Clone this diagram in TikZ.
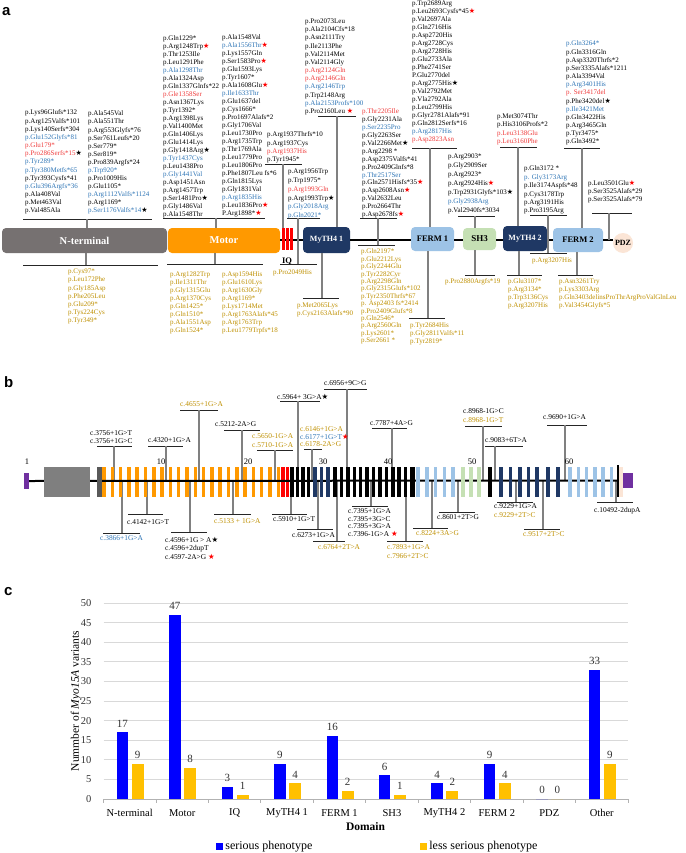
\documentclass[tikz,border=0pt]{standalone}
\usepackage{fontspec}
\setmainfont{Liberation Serif}
\setsansfont{Liberation Sans}
\newfontfamily\symfont{DejaVu Sans}
\usetikzlibrary{positioning}

\definecolor{ntgray}{HTML}{767171}
\definecolor{motororange}{HTML}{FF9900}
\definecolor{mythnavy}{HTML}{1F3864}
\definecolor{fermblue}{HTML}{9DC3E6}
\definecolor{shgreen}{HTML}{C5E0B4}
\definecolor{pdzpeach}{HTML}{FBE5D6}
\definecolor{exgray}{HTML}{7F7F7F}
\definecolor{exdark}{HTML}{595959}
\definecolor{expurple}{HTML}{7030A0}
\definecolor{txtblue}{HTML}{2E75B6}
\definecolor{txtred}{HTML}{F03C3C}
\definecolor{txtgold}{HTML}{BF9000}
\definecolor{serblue}{HTML}{0000FF}
\definecolor{lessgold}{HTML}{FFC000}
\definecolor{gridgray}{HTML}{D9D9D9}

\newcommand{\bl}[1]{{\color{txtblue}#1}}
\newcommand{\rd}[1]{{\color{txtred}#1}}
\newcommand{\gd}[1]{{\color{txtgold}#1}}
\newcommand{\rstar}{{\symfont\color{red}★}}
\newcommand{\bstar}{{\symfont ★}}

\begin{document}
\begin{tikzpicture}[x=1pt, y=-1pt,
dom/.style = {rounded corners=4pt, inner sep=0pt,
            font=\bfseries\fontsize{#1}{#1}\selectfont},
dom/.default = 8.5,
vcol/.style = {anchor=north west, inner sep=0pt, align=left, yshift=3.2pt,
            font=\fontsize{7}{#1}\selectfont},
vcol/.default = 8,
gcol/.style = {vcol=#1, text=txtgold},
gcol/.default = 8,
blab/.style = {anchor=north west, inner sep=0pt, align=left, yshift=3.3pt,
            font=\fontsize{7.4}{#1}\selectfont},
blab/.default = 8,
brk/.style = {black!85, line width=0.8pt},
stem/.style = {black!50, line width=1.3pt},
panel/.style = {font=\sffamily\bfseries\fontsize{15}{15}\selectfont,
            anchor=west, inner sep=0pt}
                ]
\useasboundingbox[fill=white] (0,0) rectangle (685,853);

% ---------------- a
\node[panel] (pa) at (2,12) {a};
\node[dom=10.5, fill=ntgray, text=white, minimum width=165, minimum height=25] (nterm) at (84.5,240.5) {N-terminal};
\node[dom=10.5, fill=motororange, text=white, minimum width=112, minimum height=25] (motor) at (224,240.5) {Motor};
\node[minimum width=11, minimum height=22, inner sep=0pt] (iqbox) at (287.5,239) {};
\node[dom=8, fill=mythnavy, text=white, minimum width=47, minimum height=26] (myth1) at (326.5,240) {MyTH4 1};
\node[dom, fill=fermblue, minimum width=43, minimum height=24] (ferm1) at (432.5,239) {FERM 1};
\node[dom=9, fill=shgreen, minimum width=33, minimum height=22] (sh3) at (479.5,239) {SH3};
\node[dom=8, fill=mythnavy, text=white, minimum width=44, minimum height=25] (myth2) at (525,238.5) {MyTH4 2};
\node[dom, fill=fermblue, minimum width=50, minimum height=24] (ferm2) at (578,240) {FERM 2};
\node[dom=8, circle, fill=pdzpeach, minimum size=20] (pdz) at (623,243) {PDZ};
\coordinate (aline) at (0,240);
\foreach \a/\b in {motor/myth1, myth1/ferm1, ferm1/sh3, sh3/myth2, myth2/ferm2, ferm2/pdz}
    \draw[line width=1.6pt] (\a.east |- aline) -- (\b.west |- aline);
\foreach \x in {283.5, 287.5, 291.5}
    \fill[red] (\x-1.2,228) rectangle (\x+1.2,250);
\node[font=\bfseries\fontsize{8.5}{9}\selectfont] (iq) at (287,261) {IQ};

% variants above the domains
\node[vcol=8.17] (tNa) at (25,113) {p.Lys96Glufs*132\\p.Arg125Valfs*101\\p.Lys140Serfs*304\\\bl{p.Glu152Glyfs*81}\\\rd{p.Glu179*}\\\rd{p.Pro286Serfs*15}\bstar\\\bl{p.Tyr289*}\\\bl{p.Tyr380Metfs*65}\\p.Tyr393Cysfs*41\\\bl{p.Glu396Argfs*36}\\p.Ala408Val\\p.Met463Val\\p.Val485Ala};
\node[vcol=8.08] (tNb) at (88,114) {p.Ala545Val\\p.Ala551Thr\\p.Arg553Glyfs*76\\p.Ser761Leufs*20\\p.Ser779*\\p.Ser819*\\p.Pro839Argfs*24\\\bl{p.Trp920*}\\p.Pro1009His\\p.Glu1105*\\\bl{p.Arg1112Valfs*1124}\\p.Arg1169*\\\bl{p.Ser1176Valfs*14}\bstar};
\node[vcol] (tMa) at (163,39) {p.Gln1229*\\p.Arg1248Trp\rstar\\p.Thr1253Ile\\p.Leu1291Phe\\\bl{p.Ala1298Thr}\\p.Ala1324Asp\\p.Gln1337Glnfs*22\\\rd{p.Gle1358Ser}\\p.Asn1367Lys\\p.Tyr1392*\\p.Arg1398Lys\\p.Val1400Met\\p.Gln1406Lys\\p.Glu1414Lys\\p.Gly1418Arg\bstar\\\bl{p.Tyr1437Cys}\\p.Leu1438Pro\\\bl{p.Gly1441Val}\\p.Asp1451Asn\\p.Arg1457Trp\\p.Ser1481Pro\bstar\\p.Gly1486Val\\p.Ala1548Thr};
\node[vcol] (tMb) at (222,38) {p.Ala1548Val\\\bl{p.Ala1556Thr}\rstar\\p.Lys1557Gln\\p.Ser1583Pro\rstar\\p.Glu1593Lys\\p.Tyr1607*\\p.Ala1608Glu\rstar\\\bl{p.Ile1633Thr}\\p.Glu1637del\\p.Cys1666*\\p.Pro1697Alafs*2\\p.Gly1706Val\\p.Leu1730Pro\\p.Arg1735Trp\\p.Thr1769Ala\\p.Leu1779Pro\\p.Leu1806Pro\\p.Phe1807Leu fs*6\\p.Gln1815Lys\\p.Gly1831Val\\\bl{p.Arg1835His}\\p.Leu1836Pro\rstar\\P.Arg1898*\rstar};
\node[vcol=8.3] (tQa) at (267,135) {p.Arg1937Thrfs*10\\p.Arg1937Cys\\\rd{p.Arg1937His}\\p.Tyr1945*};
\node[vcol=8.8] (tQb) at (288,172) {p.Arg1956Trp\\p.Trp1975*\\\rd{p.Arg1993Gln}\\p.Arg1993Trp\bstar\\\bl{p.Gly2018Arg}\\\bl{p.Gln2021*}};
\node[vcol=8.15] (tYa) at (305,22) {p.Pro2073Leu\\p.Ala2104Cfs*18\\p.Asn2111Try\\p.Ile2113Phe\\p.Val2114Met\\p.Val2114Gly\\\rd{p.Arg2124Gln}\\\rd{p.Arg2146Gln}\\\bl{p.Arg2146Trp}\\p.Trp2148Arg\\\bl{p.Ala2153Profs*100}\\p.Pro2160Leu \rstar};
\node[vcol=7.9] (tFa) at (362,112) {\rd{p.Thr2205Ile}\\p.Gly2231Ala\\\bl{p.Ser2235Pro}\\p.Gly2263Ser\\p.Val2266Met\bstar\\p.Arg2298 *\\p.Asp2375Valfs*41\\p.Pro2409Glnfs*8\\\bl{p.Thr2517Ser}\\p.Gln2571Hisfs*35\rstar\\p.Asp2608Asn\rstar\\p.Val2632Leu\\p.Pro2664Thr\\p.Asp2678fs\rstar};
\node[vcol=8.03] (tFb) at (412,3.5) {p.Trp2689Arg\\p.Leu2693Cysfs*45\rstar\\p.Val2697Ala\\p.Gln2716His\\p.Asp2720His\\p.Arg2728Cys\\p.Arg2728His\\p.Glu2733Ala\\p.Phe2741Ser\\P.Glu2770del\\p.Arg2775His\bstar\\p.Val2792Met\\p.Vla2792Ala\\p.Leu2799His\\p.Glyr2781Alafs*91\\p.Gln2812Serfs*16\\\bl{p.Arg2817His}\\\rd{p.Asp2823Asn}};
\node[vcol=9] (tSa) at (448,157) {p.Arg2903*\\p.Gly2909Ser\\p.Arg2923*\\p.Arg2924His\rstar\\p.Trp2931Glyfs*103\bstar\\\bl{p.Gly2938Arg}\\p.Val2940fs*3034};
\node[vcol=8.1] (tYb) at (497,117) {p.Met3074Thr\\p.His3106Profs*2\\\rd{p.Leu3138Glu}\\\rd{p.Leu3160Phe}};
\node[vcol=8.4] (tYc) at (524,169) {p.Gln3172 *\\\bl{p. Gly3173Arg}\\p.Ile3174Aspfs*48\\p.Cys3178Trp\\p.Arg3191His\\p.Pro3195Arg};
\node[vcol=8.17] (tFc) at (566,44) {\bl{p.Gln3264*}\\p.Gln3316Gln\\p.Asp3320Thrfs*2\\p.Ser3335Alafs*1211\\p.Ala3394Val\\\bl{p.Arg3401His}\\\rd{p. Ser3417del}\\p.Phe3420del\bstar\\\bl{p.Ile3421Met}\\p.Gln3422His\\p.Arg3465Gln\\p.Tyr3475*\\p.Gln3492*};
\node[vcol] (tPa) at (588,183) {p.Leu3501Glu\rstar\\p.Ser3525Alafs*29\\p.Ser3525Alafs*79};

% variants below the domains
\node[gcol=8.2] (bNa) at (68,272) {p.Cys97*\\p.Leu172Phe\\p.Gly185Asp\\p.Phe205Leu\\p.Glu209*\\p.Tys224Cys\\p.Tyr349*};
\node[gcol] (bMa) at (170,275) {p.Arg1282Trp\\p.Ile1311Thr\\p.Gly1315Glu\\p.Arg1370Cys\\p.Gln1425*\\p.Gln1510*\\p.Ala1551Asp\\p.Gln1524*};
\node[gcol] (bMb) at (222,275) {p.Asp1594His\\p.Glu1610Lys\\p.Arg1630Gly\\p.Arg1169*\\p.Lys1714Met\\p.Arg1763Alafs*45\\p.Arg1763Trp\\p.Leu1779Trpfs*18};
\node[gcol] (bQa) at (273,273) {p.Pro2049His};
\node[gcol] (bYa) at (297,306) {p.Met2065Lys\\p.Cys2163Alafs*90};
\node[gcol=7.4] (bFa) at (361,252) {p.Gln2197*\\p.Glu2212Lys\\p.Gly2244Glu\\p.Tyr2282Cyr\\p.Arg2298Gln\\p.Gly2315Glufs*102\\p.Tyr2350Thrfs*67\\p. Asp2403 fs*2414\\p.Pro2409Glufs*8\\p.Gln2546*\\p.Arg2560Gln\\p.Lys2601*\\p.Ser2661 *};
\node[gcol] (bFb) at (410,326) {p.Tyr2684His\\p.Gly2811Valfs*11\\p.Tyr2819*};
\node[gcol] (bSa) at (445,282) {p.Pro2880Argfs*19};
\node[gcol] (bYb) at (508,282) {p.Glu3107*\\p.Arg3134*\\p.Trp3136Cys\\p.Arg3207His};
\node[gcol] (bYc) at (532,261) {p.Arg3207His};
\node[gcol] (bFc) at (559,282) {p.Asn3261Try\\p.Lys3303Arg\\p.Gln3403delinsProThrArgProValGlnLeu\\p.Val3454Glyfs*5};

% brackets: name/y/left/right/stem
\foreach \nm/\yy/\xa/\xb/\xs in {Nu/219/23/152/87, Mu/218/163/265/216, IQa/164/265/302/283,
        IQb/218/287/320/298, Yu/116/318/356/337, Fa/218/360/397/378, Fb/148/412/457/430,
        Su/216/458/495/475, Ya/147/500/537/518, Yb/215/530/567/548, Fu/148/564/600/582,
        Pu/213/592/632/609, Nl/265/23/158/86, Ml/264/167/263/215, Ql/264/280/317/298,
        Yl/298/303/339/322, Fc/245/358/395/378, Fd/318/409/445/428, Sl/275/465/495/475,
        Yc/275/507/542/519, Ym/253/530/567/548, Fl/275/558/593/577}{
    \coordinate (k\nm) at (\xs,\yy);
    \coordinate (kl\nm) at (\xa,\yy);
    \coordinate (kr\nm) at (\xb,\yy);
    \draw[brk] (kl\nm) -- (kr\nm);
}
\foreach \k/\tg in {Nu/nterm.north, Mu/motor.north, IQa/iqbox.north, IQb/kQl, Yu/myth1.north,
        Fa/kFc, Fb/ferm1.north, Su/sh3.north, Ya/myth2.north, Yb/kYm, Fu/ferm2.north,
        Pu/aline, Nl/nterm.south, Ml/motor.south, Yl/myth1.south, Fd/ferm1.south,
        Sl/sh3.south, Yc/myth2.south, Fl/ferm2.south}
    \draw[stem] (k\k) -- (k\k |- \tg);

% ---------------- b
\node[panel] (pb) at (4,382) {b};
\coordinate (gline) at (0,481);
\foreach \nm/\yy/\xa/\xb/\xs in {3756/446/97/132/114, 4320/446/148/183/166, 4655/410/180/218/199,
        5212/430/224/260/242, 5650/450/257/293/275, 5964/401/280/320/298, 6146/449/304/322/312,
        6956/389/324/367/347, 7787/428/372/407/392, 8968/426/465/502/483, 9083/446/485/523/495,
        9690/425/547/587/565, 3866/533/103/140/122, 4142/514/128/163/147, 4596/532/171/207/190,
        5133/514/214/251/233, 5910/514/272/307/291, 6273/529/297/333/318, 6764/541/313/345/337,
        7395/506/352/388/371, 7893/541/387/423/406, 8224/528/413/448/432, 8601/512/439/475/458,
        9229/502/497/533/516, 9517/529/524/560/543, 10492/502/597/633/616}{
    \coordinate (c\nm) at (\xs,\yy);
    \coordinate (cl\nm) at (\xa,\yy);
    \coordinate (cr\nm) at (\xb,\yy);
    \draw[brk] (cl\nm) -- (cr\nm);
    \draw[stem] (c\nm) -- (c\nm |- gline);
}

% exons
\node[fill=expurple, minimum width=5, minimum height=16, inner sep=0pt] (ex1) at (26.5,481) {};
\foreach \i in {0,...,21}
    \fill[motororange] (102.25+8.3*\i,467) rectangle ++(3.5,30);
\foreach \x in {283, 287.5}
    \fill[red] (\x-1.75,467) rectangle ++(3.5,30);
\node[fill=expurple, minimum width=10, minimum height=15, inner sep=0pt] (exN) at (628,480.5) {};
\draw[line width=2pt] (ex1.east) -- (exN.west);
\fill[exgray] (44,467) rectangle (90,497);
\fill[exdark] (97,467) rectangle (101.5,497);
\foreach \c/\x in {black/292, black/297.5, black/303, black/308.5, mythnavy/315, mythnavy/321.5,
        mythnavy/328, fermblue/418, fermblue/426.75, fermblue/435.5, fermblue/444.25,
        fermblue/453, shgreen/463, shgreen/471, shgreen/479, black/490, mythnavy/501,
        mythnavy/510.5, mythnavy/520, mythnavy/528.5, mythnavy/537, mythnavy/548,
        mythnavy/558, fermblue/570, fermblue/578.3, fermblue/586.6, fermblue/594.9,
        fermblue/603.2, fermblue/611.5}
    \fill[\c] (\x-1.75,467) rectangle ++(3.5,30);
\foreach \i in {0,...,11}
    \fill[black] (335+6.42*\i-1.75,467) rectangle ++(3.5,30);
\fill[black] (410,467) rectangle (415,497);
\fill[black] (617,465) rectangle (618.5,497);
\fill[pdzpeach] (619,467) rectangle (623,497);
\foreach \n/\x in {1/27, 10/161, 20/248, 30/323, 40/388, 50/472, 60/569}
    \node[font=\fontsize{8.5}{9}\selectfont] (en\n) at (\x,462) {\n};

% splice variants
\node[blab] (l3756) at (90,434) {c.3756+1G>T\\c.3756+1G>C};
\node[blab] (l4320) at (148,441) {c.4320+1G>A};
\node[blab] (l4655) at (180,405) {\gd{c.4655+1G>A}};
\node[blab] (l5212) at (215,425) {c.5212-2A>G};
\node[blab=8.5] (l5650) at (252,437) {\gd{c.5650-1G>A}\\\gd{c.5710-1G>A}};
\node[blab] (l5964) at (277,397) {c.5964+ 3G>A\bstar};
\node[blab=7.2] (l6146) at (300,430) {\gd{c.6146+1G>A}\\\bl{c.6177+1G>T}\rstar\\\gd{c.6178-2A>G}};
\node[blab] (l6956) at (324,384) {c.6956+9C>G};
\node[blab] (l7787) at (370,424) {c.7787+4A>G};
\node[blab=9] (l8968) at (463,412) {c.8968-1G>C\\\gd{c.8968-1G>T}};
\node[blab] (l9083) at (485,441) {c.9083+6T>A};
\node[blab] (l9690) at (543,418) {c.9690+1G>A};
\node[blab] (l3866) at (100,539) {\bl{c.3866+1G>A}};
\node[blab] (l4142) at (127,523) {c.4142+1G>T};
\node[blab=8.5] (l4596) at (165,540) {c.4596+1G > A\bstar\\c.4596+2dupT\\c.4597-2A>G \rstar};
\node[blab] (l5133) at (214,522) {\gd{c.5133 + 1G>A}};
\node[blab] (l5910) at (273,520) {c.5910+1G>T};
\node[blab] (l6273) at (292,536) {c.6273+1G>A};
\node[blab] (l6764) at (318,548) {\gd{c.6764+2T>A}};
\node[blab=7.4] (l7395) at (348,512) {c.7395+1G>A\\c.7395+3G>C\\c.7395+3G>A\\c.7396-1G>A \rstar};
\node[blab=9] (l7893) at (387,548) {\gd{c.7893+1G>A}\\\gd{c.7966+2T>C}};
\node[blab] (l8224) at (416,534) {\gd{c.8224+3A>G}};
\node[blab] (l8601) at (437,518) {c.8601+2T>G};
\node[blab=9] (l9229) at (494,507) {c.9229+1G>A\\\gd{c.9229+2T>C}};
\node[blab] (l9517) at (523,535) {\gd{c.9517+2T>C}};
\node[blab] (l10492) at (594,510) {c.10492-2dupA};

% ---------------- c
\node[panel] (pc) at (4,592) {c};
\def\cx{129.7} \def\cw{52.45} \def\cy{799} \def\cu{3.92}
\foreach \v in {0,5,...,50}{
    \draw[gridgray, line width=0.8pt] (103.5,\cy-\cu*\v) -- (628,\cy-\cu*\v);
    \node[anchor=east, text=black!80, font=\fontsize{10.5}{11}\selectfont] (yt\v) at (95,\cy-\cu*\v) {\v};
}
\draw[black!30, line width=0.8pt] (103.5,\cy) -- (628,\cy);
\foreach \i in {0,...,10}
    \draw[black!30, line width=0.8pt] (103.5+\cw*\i,\cy) -- ++(0,4);
\foreach \ci/\cn/\vs/\vl in {0/N-terminal/17/9, 1/Motor/47/8, 2/IQ/3/1, 3/MyTH4 1/9/4,
        4/FERM 1/16/2, 5/SH3/6/1, 6/MyTH4 2/4/2, 7/FERM 2/9/4, 8/PDZ/0/0, 9/Other/33/9}{
    \fill[serblue] (\cx+\cw*\ci-13,\cy) rectangle (\cx+\cw*\ci-1.5,\cy-\cu*\vs);
    \fill[lessgold] (\cx+\cw*\ci+2,\cy) rectangle (\cx+\cw*\ci+14,\cy-\cu*\vl);
    \node[anchor=south, inner sep=0pt, text=black!80, font=\fontsize{11}{11}\selectfont]
        (vs\ci) at (\cx+\cw*\ci-7.25,\cy-\cu*\vs-5) {\vs};
    \node[anchor=south, inner sep=0pt, text=black!80, font=\fontsize{11}{11}\selectfont]
        (vl\ci) at (\cx+\cw*\ci+8,\cy-\cu*\vl-5) {\vl};
    \node[font=\fontsize{10.5}{11}\selectfont] (cat\ci) at (\cx+\cw*\ci,812.7) {\cn};
}
\node[rotate=90, font=\fontsize{11.5}{12}\selectfont] (ytitle) at (76,701) {Nummber of \textit{Myo15A} variants};
\node[font=\bfseries\fontsize{11.5}{12}\selectfont] (xtitle) at (365.5,826.7) {Domain};
\node[fill=serblue, minimum size=6.5, inner sep=0pt] (lgs) at (219.5,846.5) {};
\node[right=2.2pt of lgs, inner sep=0pt, font=\fontsize{12}{12}\selectfont] (lgst) {serious phenotype};
\node[fill=lessgold, minimum size=6.5, inner sep=0pt] (lgl) at (423.5,846.5) {};
\node[right=2.2pt of lgl, inner sep=0pt, font=\fontsize{12}{12}\selectfont] (lglt) {less serious phenotype};
\end{tikzpicture}
\end{document}
